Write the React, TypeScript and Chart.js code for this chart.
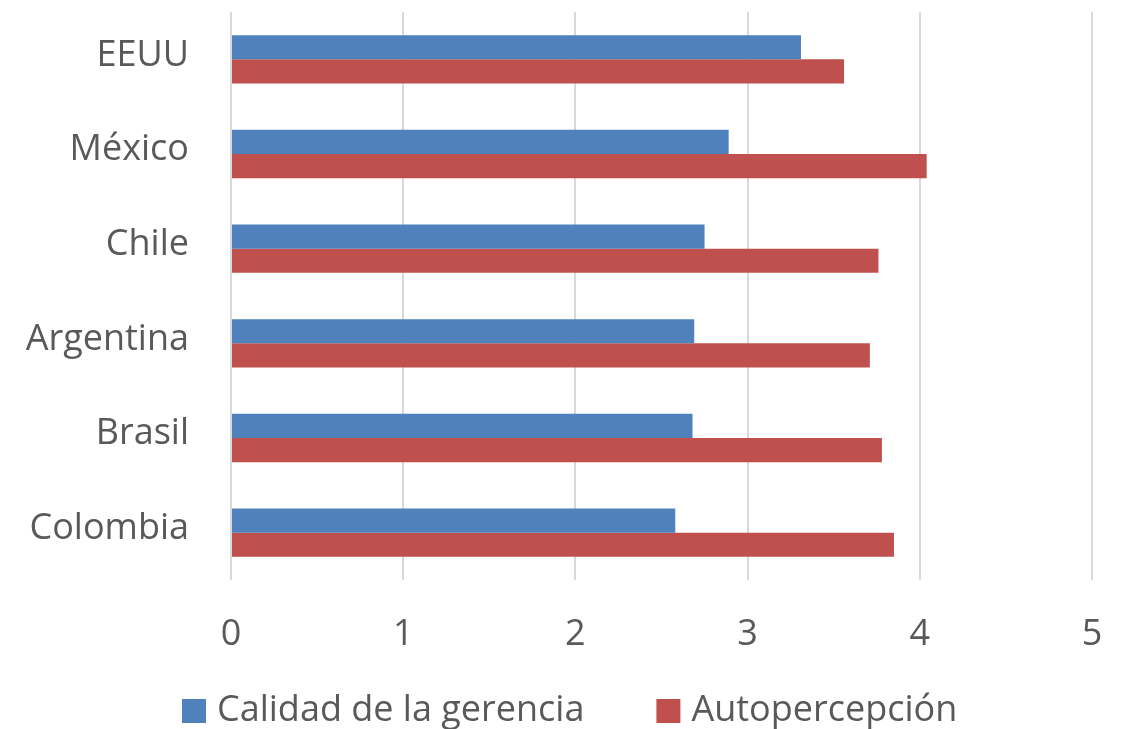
import React, { useEffect, useRef } from 'react';
import { Chart, registerables } from 'chart.js';

Chart.register(...registerables);

const categories = ['EEUU', 'México', 'Chile', 'Argentina', 'Brasil', 'Colombia'];
const seriesNames = ['Calidad de la gerencia', 'Autopercepción'];
const calidadGerencia = [3.31, 2.89, 2.75, 2.69, 2.68, 2.58];
const autopercepcion = [3.56, 4.04, 3.76, 3.71, 3.78, 3.85];
const xTicks = [0, 1, 2, 3, 4, 5];
const seriesColors = ['#4F81BD', '#C0504D'];

const FONT = '"Open Sans", "Noto Sans", sans-serif';
const TEXT_COLOR = '#595959';

// Bottom legend drawn by a small Chart.js plugin (Excel-like spacing)
const bottomLegend = {
  id: 'bottomLegend',
  afterDraw(chart: any) {
    const ctx = chart.ctx as CanvasRenderingContext2D;
    const box = 24;
    const textGap = 11;
    const itemGap = 72;
    const boxTop = 699;
    const baseline = 721;
    ctx.save();
    ctx.font = `36px ${FONT}`;
    ctx.textAlign = 'left';
    ctx.textBaseline = 'alphabetic';
    let x = 182;
    chart.data.datasets.forEach((ds: any) => {
      ctx.fillStyle = ds.backgroundColor;
      ctx.fillRect(x, boxTop, box, box);
      ctx.fillStyle = TEXT_COLOR;
      ctx.fillText(ds.label, x + box + textGap, baseline);
      x += box + textGap + ctx.measureText(ds.label).width + itemGap;
    });
    ctx.restore();
  },
};

export default function App() {
  const canvasRef = useRef<HTMLCanvasElement | null>(null);

  useEffect(() => {
    if (!canvasRef.current) return;
    const chart = new Chart(canvasRef.current, {
      type: 'bar',
      data: {
        labels: categories,
        datasets: [
          {
            label: seriesNames[0],
            data: calidadGerencia,
            backgroundColor: seriesColors[0],
            borderWidth: 0,
            barPercentage: 1,
            categoryPercentage: 0.51,
          },
          {
            label: seriesNames[1],
            data: autopercepcion,
            backgroundColor: seriesColors[1],
            borderWidth: 0,
            barPercentage: 1,
            categoryPercentage: 0.51,
          },
        ],
      },
      plugins: [bottomLegend],
      options: {
        indexAxis: 'y',
        responsive: false,
        animation: false,
        layout: { padding: { left: 0, right: 33, top: 12, bottom: 73 } },
        plugins: {
          legend: { display: false },
          tooltip: { enabled: false },
        },
        scales: {
          x: {
            min: 0,
            max: 5,
            afterBuildTicks: (s: any) => {
              s.ticks = xTicks.map((v) => ({ value: v }));
            },
            ticks: {
              font: { family: FONT, size: 36 },
              color: TEXT_COLOR,
              padding: 33,
            },
            grid: { color: '#d9d9d9', lineWidth: 2, drawTicks: false },
            border: { display: false },
            afterFit: (s: any) => {
              s.height = 76;
              s.paddingLeft = 0;
              s.paddingRight = 0;
            },
          },
          y: {
            ticks: {
              font: { family: FONT, size: 36 },
              color: TEXT_COLOR,
              padding: 42,
              labelOffset: -4,
            },
            grid: { display: false, drawTicks: false },
            border: { display: false },
            afterFit: (s: any) => {
              s.width = 231;
              s.paddingTop = 0;
              s.paddingBottom = 0;
            },
          },
        },
      },
    } as any);
    return () => chart.destroy();
  }, []);

  return (
    <div
      style={{
        position: 'fixed',
        left: 0,
        top: 0,
        width: 1125,
        height: 729,
        overflow: 'hidden',
        background: '#ffffff',
      }}
    >
      <canvas ref={canvasRef} width={1125} height={729} style={{ display: 'block' }} />
    </div>
  );
}
